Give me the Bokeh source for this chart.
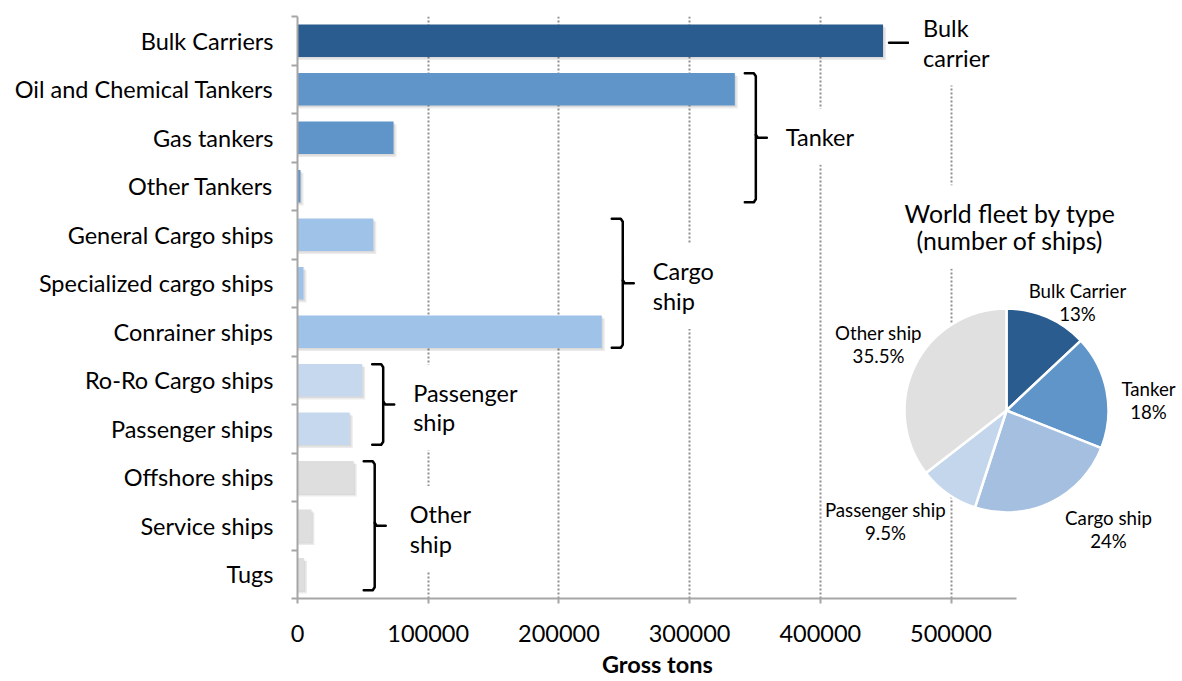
import math
from bokeh.plotting import figure
from bokeh.models import Range1d, FixedTicker, Label, Title
from bokeh.embed import file_html
from bokeh.resources import INLINE

# ---------------- data ----------------
categories = ["Bulk Carriers", "Oil and Chemical Tankers", "Gas tankers", "Other Tankers",
              "General Cargo ships", "Specialized cargo ships", "Conrainer ships",
              "Ro-Ro Cargo ships", "Passenger ships", "Offshore ships", "Service ships", "Tugs"]
gross_tons = [448000, 334600, 73500, 2300, 58000, 4600, 232800, 49500, 40000, 43000, 10700, 4900]
ship_group = ["Bulk carrier", "Tanker", "Tanker", "Tanker", "Cargo ship", "Cargo ship", "Cargo ship",
              "Passenger ship", "Passenger ship", "Other ship", "Other ship", "Other ship"]
group_names = ["Bulk carrier", "Tanker", "Cargo ship", "Passenger ship", "Other ship"]
group_texts = ["Bulk\ncarrier", "Tanker", "Cargo\nship", "Passenger\nship", "Other\nship"]

x_ticks = [0, 100000, 200000, 300000, 400000, 500000]
x_tick_labels = ["0", "100000", "200000", "300000", "400000", "500000"]
x_axis_title = "Gross tons"

pie_title = "World fleet by type\n(number of ships)"
pie_types = ["Bulk Carrier", "Tanker", "Cargo ship", "Passenger ship", "Other ship"]
pie_shares = [13, 18, 24, 9.5, 35.5]
pie_share_labels = ["13%", "18%", "24%", "9.5%", "35.5%"]

# ---------------- styles / layout ----------------
FONT = "Lato"
bar_colors = {"Bulk carrier": "#2a5c8f", "Tanker": "#5f95c8", "Cargo ship": "#9fc2e8",
              "Passenger ship": "#c6d8ee", "Other ship": "#dedede"}
pie_colors = ["#2a5c8f", "#5f95c8", "#a4bfdf", "#c4d6eb", "#e0e0e0"]
AXIS_GRAY = "#a6a6a6"
AXIS_END = 550000

W, H = 1176, 681
LEFT, TOP, BOTTOM = 297, 16, 83
FRAME_W = W - LEFT
FRAME_H = H - TOP - BOTTOM
X_END = FRAME_W / 130.7 * 100000
PX = X_END / FRAME_W          # data units per pixel (x)
ROW_PX = FRAME_H / len(categories)

p = figure(width=W, height=H, output_backend="svg", toolbar_location=None,
           x_range=Range1d(0, X_END), y_range=Range1d(len(categories) - 0.5, -0.5),
           min_border_left=LEFT, min_border_top=TOP, min_border_bottom=BOTTOM,
           min_border_right=0, tools="")
p.outline_line_color = None
p.background_fill_color = "white"
p.border_fill_color = "white"

# pixel coordinate system: 1 unit = 1 px, pie centre at (0, 0)
PIE_CX, PIE_CY = 709, 394   # px from frame left / top
p.extra_x_ranges["pie"] = Range1d(-PIE_CX, FRAME_W - PIE_CX)
p.extra_y_ranges["pie"] = Range1d(-(FRAME_H - PIE_CY), PIE_CY)

# ---------------- grid ----------------
p.ygrid.visible = False
p.xgrid.ticker = FixedTicker(ticks=x_ticks[1:])
p.xgrid.grid_line_color = "#8f8f8f"
p.xgrid.grid_line_width = 2
p.xgrid.grid_line_dash = "2 2"

# ---------------- bars ----------------
ys = list(range(len(categories)))
colors = [bar_colors[g] for g in ship_group]
sh_dx, sh_dy = 3 * PX, 3 / ROW_PX
p.hbar(y=[y + sh_dy for y in ys], left=0, right=[v + sh_dx for v in gross_tons], height=0.67,
       fill_color="#000000", fill_alpha=0.08, line_color=None)
p.hbar(y=[y + sh_dy * 0.5 for y in ys], left=0, right=[v + sh_dx * 0.5 for v in gross_tons], height=0.67,
       fill_color="#000000", fill_alpha=0.07, line_color=None)
p.hbar(y=ys, left=0, right=gross_tons, height=0.67, fill_color=colors, line_color=None)

# ---------------- brackets ----------------
PAD = 14
text_gaps = [40, 30, 30, 30, 35]   # px from bracket to its text
text_dys = [0, -1, 3, 3, 3]        # px vertical nudge of the text
bx, by = [], []
for name, txt, gap, dy in zip(group_names, group_texts, text_gaps, text_dys):
    rows = [i for i, g in enumerate(ship_group) if g == name]
    xmax = max(gross_tons[i] for i in rows)
    if len(rows) == 1:
        ymid = rows[0] + 2 / ROW_PX
        bx.append([xmax + 6 * PX, xmax + 25 * PX]); by.append([ymid, ymid])
        tx = xmax + gap * PX
    else:
        top, bot = rows[0] - 0.33, rows[-1] + 0.33
        ymid = (rows[0] + rows[-1]) / 2
        hx, vx, nx = xmax + 10 * PX, xmax + 21 * PX, xmax + 32 * PX
        c = 3 / ROW_PX
        bx.append([hx, vx - 2 * PX, vx, vx, vx - 2 * PX, hx])
        by.append([top, top, top + c, bot - c, bot, bot])
        bx.append([vx, vx + 2 * PX, nx]); by.append([ymid - c, ymid, ymid])
        tx = vx + gap * PX
    p.add_layout(Label(x=tx - PAD * PX, y=ymid + dy / ROW_PX, text=txt, text_font=FONT,
                       text_font_size="23.5px", text_color="#000000", text_align="left",
                       text_baseline="middle", text_line_height=1.06,
                       background_fill_color="white", padding=PAD))
p.multi_line(xs=bx, ys=by, line_color="#000000", line_width=2.5, line_join="round", line_cap="round")

# ---------------- pie ----------------
starts, ends = [], []
cum = 0.0
for s in pie_shares:
    starts.append(math.pi / 2 - 2 * math.pi * cum / 100)
    cum += s
    ends.append(math.pi / 2 - 2 * math.pi * cum / 100)
p.wedge(x=0, y=0, radius=102, radius_units="screen", start_angle=starts, end_angle=ends,
        direction="clock", fill_color=pie_colors, line_color="white", line_width=2.5,
        x_range_name="pie", y_range_name="pie")

pie_label_pos = [(71, 108), (142, 10), (102, -119), (-121, -111), (-128, 66)]
for (lx, ly), t, s in zip(pie_label_pos, pie_types, pie_share_labels):
    p.add_layout(Label(x=lx, y=ly, text=t + "\n" + s, x_range_name="pie", y_range_name="pie",
                       text_font=FONT, text_font_size="18.7px", text_color="#000000",
                       text_align="center", text_baseline="middle", text_line_height=1.02))
p.add_layout(Label(x=3.5, y=183.5, text=pie_title, x_range_name="pie", y_range_name="pie",
                   text_font=FONT, text_font_size="24.8px", text_color="#000000",
                   text_align="center", text_baseline="middle", text_line_height=0.92,
                   background_fill_color="white", padding=PAD))

# ---------------- axes ----------------
xa = p.xaxis[0]
xa.ticker = FixedTicker(ticks=x_ticks)
xa.major_label_overrides = {t: l for t, l in zip(x_ticks, x_tick_labels)}
xa.bounds = (0, AXIS_END)
xa.axis_line_color = AXIS_GRAY
xa.axis_line_width = 2
xa.major_tick_line_color = AXIS_GRAY
xa.major_tick_line_width = 2
xa.major_tick_out = 5
xa.major_tick_in = 0
xa.minor_tick_line_color = None
xa.major_label_text_font = FONT
xa.major_label_text_font_size = "23.5px"
xa.major_label_text_color = "#000000"
xa.major_label_standoff = 21

# axis title, centred under the drawn part of the axis (0 .. AXIS_END)
TITLE_HALF_W = 55
axis_centre_px = (AXIS_END / 2) / PX
p.add_layout(Title(text=x_axis_title, align="left", offset=axis_centre_px - TITLE_HALF_W,
                   text_font=FONT, text_font_size="23.5px", text_font_style="bold",
                   text_color="#000000", standoff=6), "below")

ya = p.yaxis[0]
ya.ticker = FixedTicker(ticks=ys, minor_ticks=[i - 0.5 for i in range(len(categories) + 1)])
ya.major_label_overrides = {i: c for i, c in zip(ys, categories)}
ya.axis_line_color = AXIS_GRAY
ya.axis_line_width = 2
ya.major_tick_line_color = None
ya.major_tick_out = 0
ya.major_tick_in = 0
ya.minor_tick_line_color = AXIS_GRAY
ya.minor_tick_line_width = 2
ya.minor_tick_out = 6
ya.minor_tick_in = 0
ya.major_label_text_font = FONT
ya.major_label_text_font_size = "23.5px"
ya.major_label_text_color = "#000000"
ya.major_label_standoff = 18

open("out.html", "w").write(file_html(p, INLINE))
